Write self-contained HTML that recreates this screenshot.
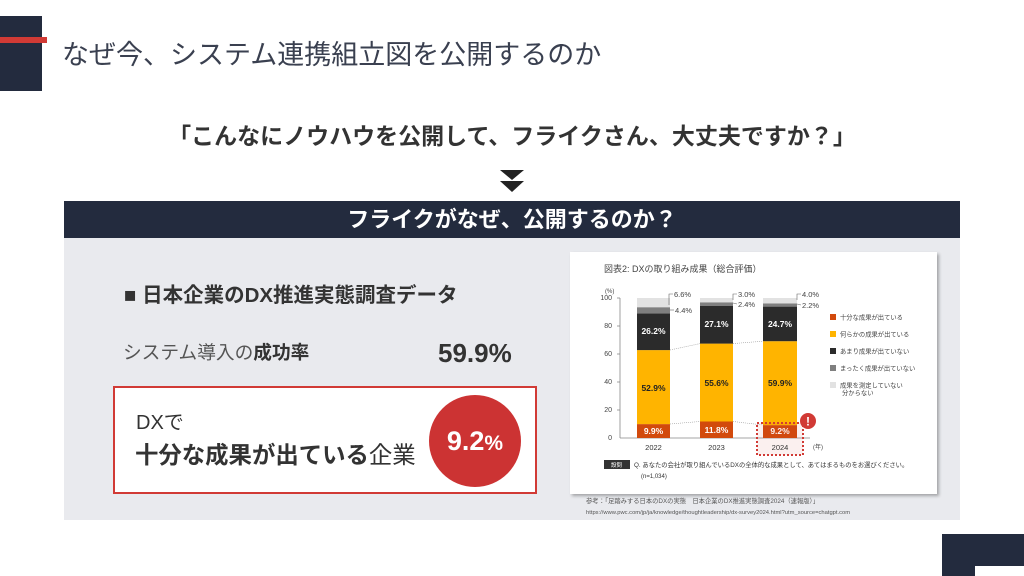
<!DOCTYPE html>
<html><head><meta charset="utf-8"><style>
*{margin:0;padding:0;box-sizing:border-box}
body{width:1024px;height:576px;background:#fff;position:relative;overflow:hidden;font-family:"Liberation Sans","Noto Sans CJK JP",sans-serif;color:#333}
.a{position:absolute;white-space:nowrap}
</style></head><body>
<div class="a" style="left:0;top:16px;width:42px;height:75px;background:#232b3e"></div>
<div class="a" style="left:0;top:37px;width:47px;height:6px;background:#d13a35"></div>
<div class="a" style="left:62px;top:38px;font-size:27px;color:#3a4050;line-height:34px">なぜ今、システム連携組立図を公開するのか</div>
<div class="a" style="left:0;width:1024px;top:120px;text-align:center;font-size:23px;font-weight:bold;color:#333;line-height:32px">「こんなにノウハウを公開して、フライクさん、大丈夫ですか？」</div>
<svg class="a" style="left:498px;top:168px" width="28" height="26"><polygon points="2,2 26,2 14,12" fill="#222"/><polygon points="2,13 26,13 14,24" fill="#222"/></svg>
<div class="a" style="left:64px;top:201px;width:896px;height:37px;background:#232b3e;color:#fff;font-weight:bold;font-size:22px;text-align:center;line-height:37px">フライクがなぜ、公開するのか？</div>
<div class="a" style="left:64px;top:238px;width:896px;height:282px;background:#e9eaee"></div>
<div class="a" style="left:124px;top:281px;font-size:20.5px;font-weight:bold;color:#333;line-height:30px">■ 日本企業のDX推進実態調査データ</div>
<div class="a" style="left:123px;top:339px;font-size:18.7px;color:#555;line-height:28px">システム導入の<b style="color:#333">成功率</b></div>
<div class="a" style="left:438px;top:336px;font-size:26px;font-weight:bold;color:#333;line-height:34px">59.9%</div>
<div class="a" style="left:113px;top:386px;width:424px;height:108px;background:#fff;border:2px solid #d13a35"></div>
<div class="a" style="left:136px;top:408px;font-size:20px;color:#333;line-height:30px">DXで</div>
<div class="a" style="left:135px;top:439px;font-size:23.4px;color:#333;line-height:32px"><b>十分な成果が出ている</b>企業</div>
<div class="a" style="left:429px;top:395px;width:92px;height:92px;border-radius:50%;background:#cc3333;color:#fff;font-weight:bold;font-size:27px;text-align:center;line-height:92px">9.2<span style="font-size:21px">%</span></div>
<div class="a" style="left:570px;top:252px;width:367px;height:242px;background:#fff;box-shadow:2px 2px 3px rgba(0,0,0,.3)"></div>
<svg class="a" style="left:0;top:0" width="1024" height="576" font-family="Liberation Sans, Noto Sans CJK JP, sans-serif">
<text x="604" y="272" font-size="9" fill="#444">図表2: DXの取り組み成果（総合評価）</text>
<text x="605" y="293" font-size="6" fill="#444">(%)</text>
<g font-size="7" fill="#444" text-anchor="end">
<text x="612" y="300">100</text>
<text x="612" y="328">80</text><text x="612" y="356">60</text><text x="612" y="384">40</text><text x="612" y="412">20</text><text x="612" y="440">0</text></g>
<line x1="620" y1="298" x2="620" y2="438" stroke="#888" stroke-width="0.8"/>
<line x1="620" y1="438" x2="810" y2="438" stroke="#888" stroke-width="0.8"/>
<g stroke="#888" stroke-width="0.8"><line x1="617" y1="298" x2="620" y2="298"/><line x1="617" y1="326" x2="620" y2="326"/><line x1="617" y1="354" x2="620" y2="354"/><line x1="617" y1="382" x2="620" y2="382"/><line x1="617" y1="410" x2="620" y2="410"/></g>
<rect x="637" y="424.1" width="33" height="13.9" fill="#d24a0c"/>
<rect x="637" y="350.1" width="33" height="74" fill="#ffb400"/>
<rect x="637" y="313.4" width="33" height="36.7" fill="#2b2b2b"/>
<rect x="637" y="307.2" width="33" height="6.2" fill="#7f7f7f"/>
<rect x="637" y="298" width="33" height="9.2" fill="#e2e2e2"/>
<rect x="700" y="421.5" width="33" height="16.5" fill="#d24a0c"/>
<rect x="700" y="343.6" width="33" height="77.9" fill="#ffb400"/>
<rect x="700" y="305.7" width="33" height="37.9" fill="#2b2b2b"/>
<rect x="700" y="302.3" width="33" height="3.4" fill="#7f7f7f"/>
<rect x="700" y="298" width="33" height="4.3" fill="#e2e2e2"/>
<rect x="763" y="425.1" width="34" height="12.9" fill="#d24a0c"/>
<rect x="763" y="341.2" width="34" height="83.9" fill="#ffb400"/>
<rect x="763" y="306.6" width="34" height="34.6" fill="#2b2b2b"/>
<rect x="763" y="303.5" width="34" height="3.1" fill="#7f7f7f"/>
<rect x="763" y="298" width="34" height="5.5" fill="#e2e2e2"/>
<g stroke="#999" stroke-width="0.6" stroke-dasharray="1,1" fill="none">
<polyline points="670,350 700,343.6"/><polyline points="733,343.6 763,341.2"/>
<polyline points="670,424 700,421.5"/><polyline points="733,421.5 763,425"/></g>
<g font-size="8.5" font-weight="bold" text-anchor="middle">
<text x="653.5" y="334" fill="#fff">26.2%</text><text x="716.5" y="327" fill="#fff">27.1%</text><text x="780" y="327" fill="#fff">24.7%</text>
<text x="653.5" y="391" fill="#222">52.9%</text><text x="716.5" y="386" fill="#222">55.6%</text><text x="780" y="386" fill="#222">59.9%</text>
<text x="653.5" y="434" fill="#fff">9.9%</text><text x="716.5" y="433" fill="#fff">11.8%</text><text x="780" y="434" fill="#fff">9.2%</text></g>
<rect x="757" y="423" width="46" height="32" fill="#d13a35" fill-opacity="0.08" stroke="#d13a35" stroke-width="2" stroke-dasharray="2,2"/>
<circle cx="808" cy="421" r="8" fill="#d13a35"/><text x="808" y="425.5" font-size="12" font-weight="bold" fill="#fff" text-anchor="middle">!</text>
<g font-size="7.5" fill="#333" text-anchor="middle"><text x="653.5" y="450">2022</text><text x="716.5" y="450">2023</text><text x="780" y="450">2024</text></g>
<text x="813" y="449" font-size="6" fill="#444">(年)</text>
<g stroke="#666" stroke-width="0.6" fill="none">
<polyline points="669,305 669,294 673,294"/><polyline points="670,310 674,310"/>
<polyline points="733,300 733,294 737,294"/><polyline points="733,303 737,304"/>
<polyline points="797,300 797,294 801,294"/><polyline points="797,304 801,305"/></g>
<g font-size="7.5" fill="#444"><text x="674" y="297">6.6%</text><text x="675" y="313">4.4%</text>
<text x="738" y="297">3.0%</text><text x="738" y="307">2.4%</text><text x="802" y="297">4.0%</text><text x="802" y="308">2.2%</text></g>
<g font-size="6.3" fill="#444">
<rect x="830" y="314" width="6" height="6" fill="#d24a0c"/><text x="840" y="319.5">十分な成果が出ている</text>
<rect x="830" y="331" width="6" height="6" fill="#ffb400"/><text x="840" y="336.5">何らかの成果が出ている</text>
<rect x="830" y="348" width="6" height="6" fill="#2b2b2b"/><text x="840" y="353.5">あまり成果が出ていない</text>
<rect x="830" y="365" width="6" height="6" fill="#7f7f7f"/><text x="840" y="370.5">まったく成果が出ていない</text>
<rect x="830" y="382" width="6" height="6" fill="#e2e2e2"/><text x="840" y="387.5">成果を測定していない</text><text x="842" y="395">分からない</text></g>
<rect x="604" y="460" width="26" height="9" fill="#333"/><text x="611" y="467" font-size="5.5" fill="#fff">設問</text>
<text x="634" y="467" font-size="6.3" fill="#333">Q. あなたの会社が取り組んでいるDXの全体的な成果として、あてはまるものをお選びください。</text>
<text x="641" y="478" font-size="6" fill="#333">(n=1,034)</text>
<text x="586" y="503" font-size="6.3" fill="#555">参考：「足踏みする日本のDXの実態　日本企業のDX推進実態調査2024（速報版）」</text>
<text x="586" y="514" font-size="5.8" fill="#555">https://www.pwc.com/jp/ja/knowledge/thoughtleadership/dx-survey2024.html?utm_source=chatgpt.com</text>
</svg>
<div class="a" style="left:942px;top:534px;width:82px;height:42px;background:#232b3e"></div>
<div class="a" style="left:975px;top:566px;width:49px;height:10px;background:#fff"></div>
</body></html>
